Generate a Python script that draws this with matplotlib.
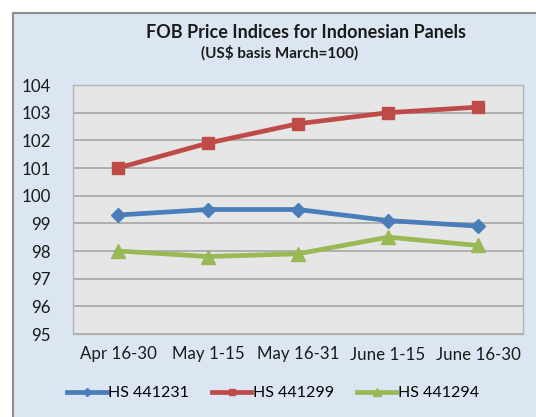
import matplotlib.pyplot as plt
from matplotlib.patches import Rectangle

periods = ["Apr 16-30", "May 1-15", "May 16-31", "June 1-15", "June 16-30"]
hs_441231 = [99.3, 99.5, 99.5, 99.1, 98.9]
hs_441299 = [101.0, 101.9, 102.6, 103.0, 103.2]
hs_441294 = [98.0, 97.8, 97.9, 98.5, 98.2]

plt.rcParams['font.family'] = ['Lato', 'DejaVu Sans']

fig = plt.figure(figsize=(5.36, 4.17), dpi=100)
fig.patch.set_facecolor('white')
# outer chart frame (cropped on right and bottom)
W, H = 536, 417
fig.patches.append(Rectangle((13 / W, -0.05), 1.1, (H - 13) / H + 0.05, transform=fig.transFigure,
                             facecolor='#DCE6F2', edgecolor='#8C8C8C', linewidth=1.5, zorder=-10))

ax = fig.add_axes([73 / W, 1 - 334 / H, 450 / W, (334 - 85) / H])
ax.set_facecolor('#E6E6E6')

x = range(len(periods))
ax.plot(x, hs_441231, color='#4A7EBB', lw=3.4, marker='D', ms=7.5, label='HS 441231', zorder=3)
ax.plot(x, hs_441299, color='#BE4B48', lw=3.4, marker='s', ms=8.5, label='HS 441299', zorder=3)
ax.plot(x, hs_441294, color='#98B954', lw=3.4, marker='^', ms=9.5, label='HS 441294', zorder=3)

ax.set_xlim(-0.5, 4.5)
ax.set_ylim(95, 104)
ax.set_yticks(range(95, 105))
ax.set_xticks(list(x))
ax.set_xticklabels(periods)
ax.grid(axis='y', color='#A6A6A6', lw=1.2)
ax.set_axisbelow(True)
ax.tick_params(length=0, labelsize=12.2, colors='#1A1A1A')
ax.tick_params(axis='x', pad=9)
ax.tick_params(axis='y', pad=16)
for s in ax.spines.values():
    s.set_color('#B4B4B4')
    s.set_linewidth(1)

fig.text(306 / W, 1 - 32 / H, "FOB Price Indices for Indonesian Panels", ha='center', va='center',
         fontsize=13, fontweight='bold', color='#1A1A1A')
fig.text(280 / W, 1 - 53 / H, "(US$ basis March=100)", ha='center', va='center',
         fontsize=11, fontweight='bold', color='#1A1A1A')

fig.legend(loc='center', bbox_to_anchor=(273 / W, 1 - 393 / H), ncol=3, frameon=False,
           fontsize=11.5, handlelength=2.5, handletextpad=0.1, columnspacing=1.4, markerscale=0.55)

fig.savefig('out.png', dpi=100)
